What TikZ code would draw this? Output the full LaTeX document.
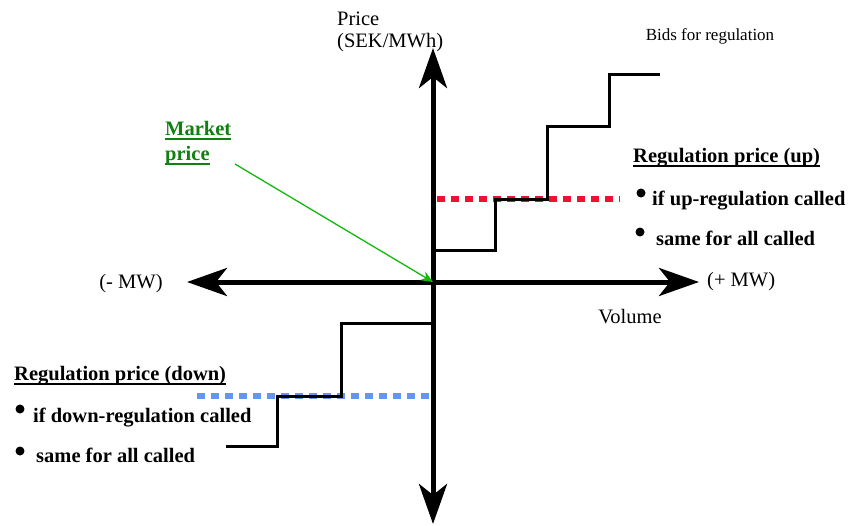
\documentclass[tikz,border=0pt]{standalone}
\usepackage{fontspec}
\setmainfont{Liberation Serif}
\newcommand{\myul}[1]{\leavevmode\setbox0\hbox{#1}\rlap{\rule[-4.5pt]{\wd0}{2pt}}\box0}
\usetikzlibrary{arrows.meta}
\definecolor{upred}{HTML}{EE1133}
\definecolor{downblue}{HTML}{6495F0}
\definecolor{mkgreen}{HTML}{108010}
\definecolor{arrgreen}{HTML}{10B810}
\begin{document}
\begin{tikzpicture}[x=1pt,y=-1pt,
  axis/.style={line width=5pt,-{Stealth[length=40pt,width=28pt,inset=11pt]}},
  stair/.style={line width=3pt,line join=miter},
  dotline/.style={line width=6pt,dash pattern=on 8pt off 6pt},
  lbl/.style={inner sep=0pt,font=\fontsize{20.5}{23}\selectfont},
  blbl/.style={inner sep=0pt,anchor=west,font=\fontsize{20.5}{23}\selectfont\bfseries},
  dot/.style={circle,fill=black,inner sep=0pt,minimum size=9pt}]
\useasboundingbox (0,0) rectangle (850,525);
\coordinate (o) at (433,282);
\coordinate (ytop) at (433,48);
\coordinate (ybot) at (433,524);
\coordinate (xl) at (187,282);
\coordinate (xr) at (699,282);
% dotted lines
\draw[dotline,upred] (437,199) -- (620,199);
\draw[dotline,downblue] (197,396) -- (430,396);
% staircases
\draw[stair] (433,250) -- (495,250) -- (495,199) -- (547,199) -- (547,126) -- (609,126) -- (609,74) -- (660,74);
\draw[stair] (433,323) -- (341,323) -- (341,396) -- (277,396) -- (277,446) -- (226,446);
% axes
\draw[axis] (o) -- (ytop);
\draw[axis] (o) -- (ybot);
\draw[axis] (o) -- (xl);
\draw[axis] (o) -- (xr);
% labels
\node[lbl,anchor=west] (price) at (337,19) {Price};
\node[lbl,anchor=west] (unit) at (337,43) {(SEK/MWh)};
\node[inner sep=0pt,font=\fontsize{17}{19}\selectfont] (bids) at (710,36) {Bids for regulation};
\node[lbl] (minus) at (131,284) {(- MW)};
\node[lbl,anchor=west] (plus) at (707,282) {(+ MW)};
\node[lbl] (vol) at (630,317) {Volume};
\node[blbl,text=mkgreen] (mk1) at (165,131) {\myul{Market}};
\node[blbl,text=mkgreen] (mk2) at (165,156) {\myul{price}};
\draw[arrgreen,line width=1.3pt,-{Stealth[length=12pt,width=10pt]}] (235,164) -- (o);
\node[blbl] (rup) at (633,158) {\myul{Regulation price (up)}};
\node[dot] (b1) at (641,193) {};
\node[blbl] (t1) at (652,201) {if up-regulation called};
\node[dot] (b2) at (640,232) {};
\node[blbl] (t2) at (656,238) {same for all called};
\node[blbl] (rdn) at (14,376) {\myul{Regulation price (down)}};
\node[dot] (b3) at (20,409) {};
\node[blbl] (t3) at (33,418) {if down-regulation called};
\node[dot] (b4) at (20,451) {};
\node[blbl] (t4) at (36,455) {same for all called};
\end{tikzpicture}
\end{document}
